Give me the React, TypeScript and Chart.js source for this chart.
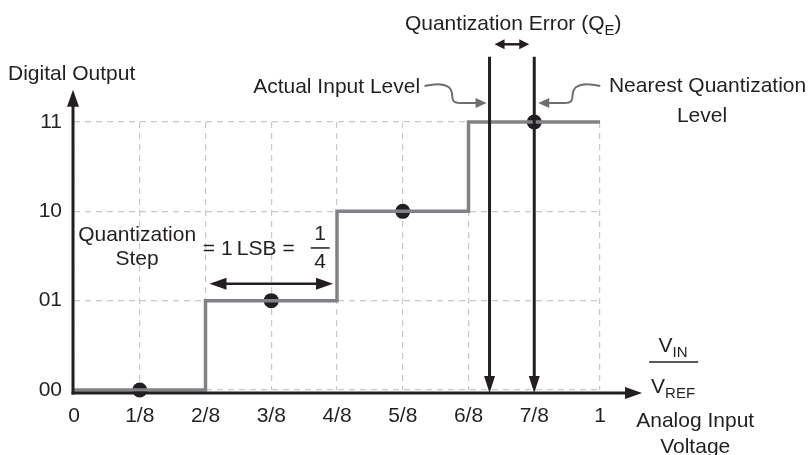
import React, { useEffect, useRef } from "react";
import { Chart, registerables } from "chart.js";

Chart.register(...registerables);

// ---- data ----
const xTickValues = [0, 1 / 8, 2 / 8, 3 / 8, 4 / 8, 5 / 8, 6 / 8, 7 / 8, 1];
const xTickLabels = ["0", "1/8", "2/8", "3/8", "4/8", "5/8", "6/8", "7/8", "1"];
const yTickValues = [0, 1, 2, 3];
const yTickLabels = ["00", "01", "10", "11"];
const stepX = [0, 2 / 8, 4 / 8, 6 / 8, 1];
const stepY = [0, 1, 2, 3, 3];
const sampleX = [1 / 8, 3 / 8, 5 / 8, 7 / 8];
const sampleY = [0, 1, 2, 3];
const actualInputLevel = 0.79;
const nearestLevel = 7 / 8;

const INK = "#231f20";
const STEP_GRAY = "#808285";
const CONNECTOR = "#6d6e71";
const FONT = '"Liberation Sans", Arial, Helvetica, sans-serif';

function arrowHead(ctx: CanvasRenderingContext2D, tx: number, ty: number, dx: number, dy: number, len: number, half: number) {
  const bx = tx - dx * len;
  const by = ty - dy * len;
  const nx = -dy;
  const ny = dx;
  ctx.beginPath();
  ctx.moveTo(tx, ty);
  ctx.lineTo(bx + nx * half, by + ny * half);
  ctx.lineTo(bx - nx * half, by - ny * half);
  ctx.closePath();
  ctx.fill();
}

type Piece = { t: string; sub?: boolean };

function drawRich(ctx: CanvasRenderingContext2D, pieces: Piece[], x: number, y: number, align: "left" | "center" | "right", size = 21) {
  const subSize = Math.round(size * 0.72);
  const widths = pieces.map((p) => {
    ctx.font = `${p.sub ? subSize : size}px ${FONT}`;
    return ctx.measureText(p.t).width;
  });
  const total = widths.reduce((a, b) => a + b, 0);
  let cx = align === "left" ? x : align === "center" ? x - total / 2 : x - total;
  ctx.textAlign = "left";
  ctx.textBaseline = "alphabetic";
  pieces.forEach((p, i) => {
    ctx.font = `${p.sub ? subSize : size}px ${FONT}`;
    ctx.fillText(p.t, cx, p.sub ? y + 5 : y);
    cx += widths[i];
  });
}

const annotationPlugin = {
  id: "quantAnnotations",
  afterDraw(chart: any) {
    const ctx: CanvasRenderingContext2D = chart.ctx;
    const xs = chart.scales.x;
    const ys = chart.scales.y;
    const px = (v: number) => xs.getPixelForValue(v);
    const py = (v: number) => ys.getPixelForValue(v);
    const ay = py(0) + 3;
    const ax = px(0) - 1;

    ctx.save();
    ctx.strokeStyle = INK;
    ctx.fillStyle = INK;
    ctx.lineCap = "butt";

    // axes
    ctx.lineWidth = 3;
    const xEnd = px(1.08);
    ctx.beginPath();
    ctx.moveTo(ax - 1.5, ay);
    ctx.lineTo(xEnd - 12, ay);
    ctx.stroke();
    arrowHead(ctx, xEnd, ay, 1, 0, 17, 6);
    const yEnd = py(3.36);
    ctx.beginPath();
    ctx.moveTo(ax, ay + 1.5);
    ctx.lineTo(ax, yEnd + 12);
    ctx.stroke();
    arrowHead(ctx, ax, yEnd, 0, -1, 17, 6);

    // vertical level lines
    const lineTop = py(3.73);
    [actualInputLevel, nearestLevel].forEach((v) => {
      const x = px(v);
      ctx.lineWidth = 3;
      ctx.beginPath();
      ctx.moveTo(x, lineTop);
      ctx.lineTo(x, ay - 12);
      ctx.stroke();
      arrowHead(ctx, x, ay, 0, 1, 17, 5.5);
    });

    // quantization error double arrow
    const qy = py(3.87);
    const qa = px(actualInputLevel) + 5;
    const qb = px(nearestLevel) - 5;
    ctx.lineWidth = 2.5;
    ctx.beginPath();
    ctx.moveTo(qa + 6, qy);
    ctx.lineTo(qb - 6, qy);
    ctx.stroke();
    arrowHead(ctx, qa, qy, -1, 0, 10, 5);
    arrowHead(ctx, qb, qy, 1, 0, 10, 5);

    // quantization step double arrow
    const sy = py(1.19);
    const sa = px(2 / 8) + 4;
    const sb = px(4 / 8) - 4;
    ctx.lineWidth = 2.5;
    ctx.beginPath();
    ctx.moveTo(sa + 10, sy);
    ctx.lineTo(sb - 10, sy);
    ctx.stroke();
    arrowHead(ctx, sa, sy, -1, 0, 17, 6);
    arrowHead(ctx, sb, sy, 1, 0, 17, 6);

    // connectors
    ctx.strokeStyle = CONNECTOR;
    ctx.fillStyle = CONNECTOR;
    ctx.lineWidth = 2;
    const ty = py(3.213);
    const t1 = px(actualInputLevel) - 3;
    ctx.beginPath();
    ctx.moveTo(t1 - 62, ty - 17);
    ctx.bezierCurveTo(t1 - 52, ty - 19, t1 - 44, ty - 20, t1 - 38, ty - 16);
    ctx.bezierCurveTo(t1 - 30, ty - 10, t1 - 40, ty, t1 - 26, ty);
    ctx.lineTo(t1 - 8, ty);
    ctx.stroke();
    arrowHead(ctx, t1, ty, 1, 0, 11, 5);
    const t2 = px(nearestLevel) + 4;
    ctx.beginPath();
    ctx.moveTo(t2 + 62, ty - 17);
    ctx.bezierCurveTo(t2 + 52, ty - 19, t2 + 44, ty - 20, t2 + 38, ty - 16);
    ctx.bezierCurveTo(t2 + 30, ty - 10, t2 + 40, ty, t2 + 26, ty);
    ctx.lineTo(t2 + 8, ty);
    ctx.stroke();
    arrowHead(ctx, t2, ty, -1, 0, 11, 5);

    // texts
    ctx.fillStyle = INK;
    drawRich(ctx, [{ t: "Digital Output" }], px(-0.1255), py(3.47), "left");
    drawRich(ctx, [{ t: "Actual Input Level" }], px(0.658), py(3.325), "right");
    drawRich(ctx, [{ t: "Nearest Quantization" }], px(1.017), py(3.336), "left");
    drawRich(ctx, [{ t: "Level" }], px(1.194), py(3.0), "center");
    drawRich(ctx, [{ t: "Quantization Error (Q" }, { t: "E", sub: true }, { t: ")" }], px(0.835), py(4.03), "center");
    drawRich(ctx, [{ t: "Quantization" }], px(0.12), py(1.668), "center");
    drawRich(ctx, [{ t: "Step" }], px(0.12), py(1.4), "center");
    drawRich(ctx, [{ t: "= 1\u2009LSB =" }], px(0.245), py(1.511), "left");
    const fx = px(0.468);
    drawRich(ctx, [{ t: "1" }], fx, py(1.679), "center");
    drawRich(ctx, [{ t: "4" }], fx, py(1.366), "center");
    ctx.strokeStyle = INK;
    ctx.lineWidth = 1.5;
    ctx.beginPath();
    ctx.moveTo(fx - 9.5, py(1.59));
    ctx.lineTo(fx + 9.5, py(1.59));
    ctx.stroke();
    const vx = px(1.139);
    drawRich(ctx, [{ t: "V" }, { t: "IN", sub: true }], vx, py(0.425), "center");
    drawRich(ctx, [{ t: "V" }, { t: "REF", sub: true }], vx, py(-0.034), "center");
    ctx.beginPath();
    ctx.moveTo(vx - 24, py(0.313));
    ctx.lineTo(vx + 25, py(0.313));
    ctx.stroke();
    drawRich(ctx, [{ t: "Analog Input" }], px(1.181), py(-0.414), "center");
    drawRich(ctx, [{ t: "Voltage" }], px(1.181), py(-0.705), "center");

    ctx.restore();
  },
};

export default function App() {
  const canvasRef = useRef<HTMLCanvasElement | null>(null);

  useEffect(() => {
    const canvas = canvasRef.current;
    if (!canvas) return;
    const chart = new Chart(canvas, {
      type: "line",
      data: {
        datasets: [
          {
            label: "Transfer function",
            data: stepX.map((x, i) => ({ x, y: stepY[i] })),
            stepped: true,
            borderColor: STEP_GRAY,
            borderWidth: 3.5,
            pointRadius: 0,
            fill: false,
            clip: false as any,
          },
          {
            label: "Samples",
            data: sampleX.map((x, i) => ({ x, y: sampleY[i] })),
            showLine: false,
            pointRadius: 7.5,
            pointBackgroundColor: INK,
            pointBorderColor: INK,
            pointBorderWidth: 0,
            clip: false as any,
          },
        ],
      },
      options: {
        responsive: false,
        animation: false,
        devicePixelRatio: 1,
        layout: { padding: { top: 122, right: 209, bottom: 25, left: 0 } },
        plugins: { legend: { display: false }, tooltip: { enabled: false } },
        scales: {
          x: {
            type: "linear",
            min: 0,
            max: 1,
            afterBuildTicks: (scale: any) => {
              scale.ticks = xTickValues.map((v) => ({ value: v }));
            },
            afterFit: (scale: any) => {
              scale.height = 40;
            },
            ticks: {
              autoSkip: false,
              maxRotation: 0,
              padding: 14,
              color: INK,
              font: { family: FONT, size: 21 },
              callback: (_v: any, i: number) => xTickLabels[i],
            },
            grid: { color: "#c8c8c8", lineWidth: 1.2, drawTicks: false },
            border: { display: false, dash: [6, 5] },
          },
          y: {
            type: "linear",
            min: 0,
            max: 3,
            afterBuildTicks: (scale: any) => {
              scale.ticks = yTickValues.map((v) => ({ value: v }));
            },
            afterFit: (scale: any) => {
              scale.width = 74;
            },
            ticks: {
              autoSkip: false,
              padding: 12,
              color: INK,
              font: { family: FONT, size: 21 },
              callback: (_v: any, i: number) => yTickLabels[i],
            },
            grid: { color: "#c8c8c8", lineWidth: 1.2, drawTicks: false },
            border: { display: false, dash: [6, 5] },
          },
        },
      },
      plugins: [annotationPlugin],
    });
    return () => chart.destroy();
  }, []);

  return (
    <div style={{ position: "absolute", left: 0, top: 0, width: 809, height: 455, background: "#fff" }}>
      <canvas ref={canvasRef} width={809} height={455} style={{ display: "block" }} />
    </div>
  );
}
